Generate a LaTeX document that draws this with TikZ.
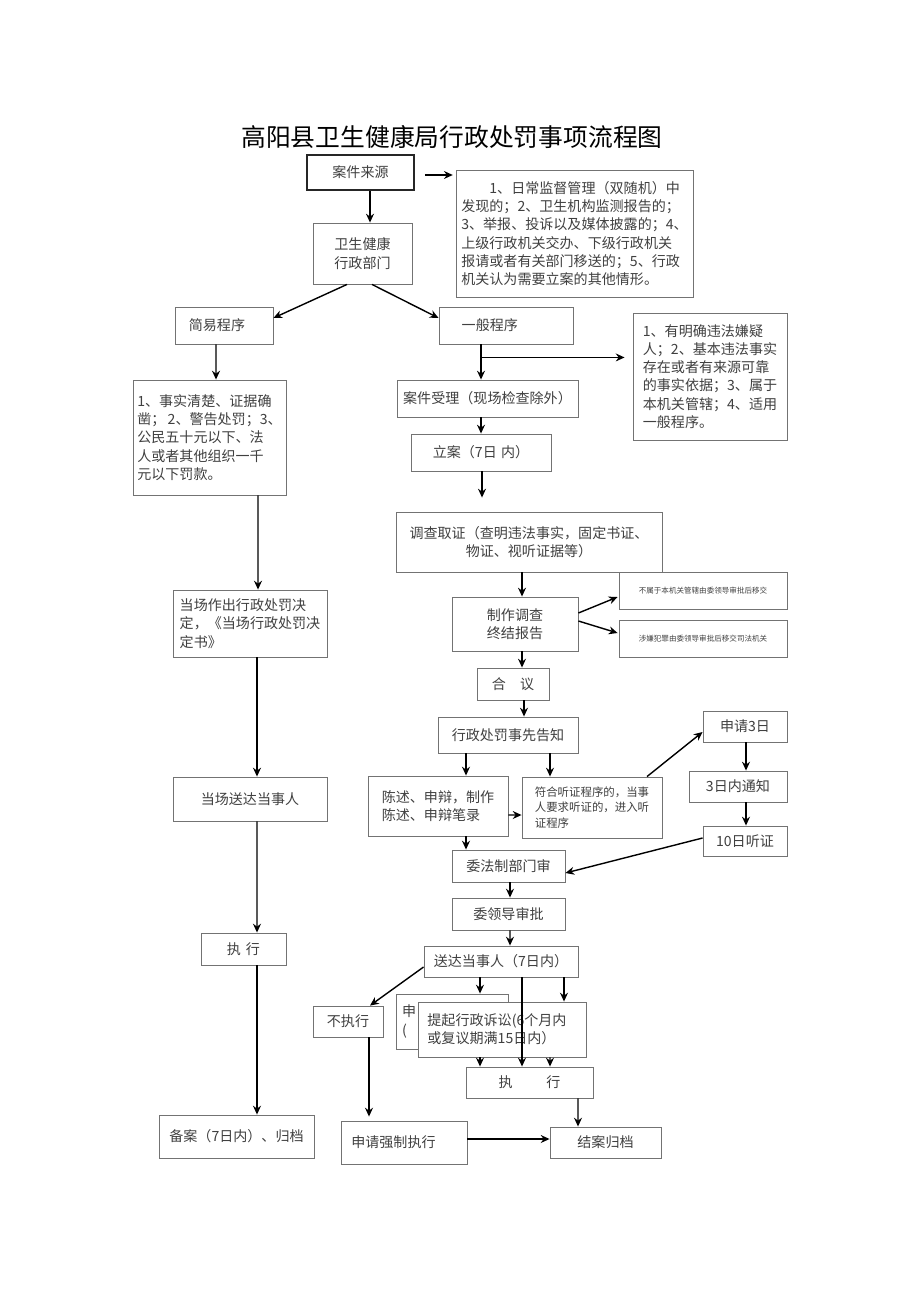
\documentclass[tikz,border=0pt]{standalone}
\usepackage{fontspec}
\setmainfont{Noto Sans CJK SC}
\usetikzlibrary{arrows.meta,calc,positioning}

\tikzset{
  box/.style={draw=black!55, line width=0.5pt, fill=white, text=black!75, inner sep=0pt,
              align=left, font=\fontsize{8}{10.4}\selectfont},
  sz/.style 2 args={minimum width=#1*0.02cm, minimum height=#2*0.02cm},
  arr/.style={-{Stealth[length=5pt,width=4.5pt]}, line width=0.8pt, black},
}

\begin{document}
\begin{tikzpicture}[x=0.02cm, y=-0.02cm]
    \useasboundingbox (0,0) rectangle (920,1301);

    % Title
    \node (title) at (452,137) {\fontsize{14.1}{17}\selectfont 高阳县卫生健康局行政处罚事项流程图};

    % Case source
    \node[box, sz={107}{35}, draw=black!85, line width=0.9pt] (src) at (360.5,172.5) {案件来源};
    \node[box, sz={237}{127}] (srclist) at (574.5,233.5)
        {\hspace*{2em}1、日常监督管理（双随机）中\\发现的；2、卫生机构监测报告的；\\3、举报、投诉以及媒体披露的；4、\\上级行政机关交办、下级行政机关\\报请或者有关部门移送的；5、行政\\机关认为需要立案的其他情形。};
    \node[box, sz={99}{61}, align=center] (wsjk) at (362.5,253.5) {卫生健康\\行政部门};

    % Two procedures
    \node[box, sz={98}{37}] (jianyi) at (224,325.5) {简易程序\hspace*{1em}};
    \node[box, sz={134}{37}] (yiban) at (506,325.5) {一般程序\hspace*{2.3em}};
    \node[box, sz={154}{127}] (yibanlist) at (710,376.5)
        {1、有明确违法嫌疑\\人；2、基本违法事实\\存在或者有来源可靠\\的事实依据；3、属于\\本机关管辖；4、适用\\一般程序。};

    % Simple procedure column
    \node[box, sz={153}{115}] (shishi) at (209.5,437.5)
        {1、事实清楚、证据确\\凿；\,2、警告处罚；3、\\公民五十元以下、法\\人或者其他组织一千\\元以下罚款。};
    \node[box, sz={154}{67}] (dangchang) at (250,623.5)
        {当场作出行政处罚决\\定，《当场行政处罚决\\定书》};
    \node[box, sz={154}{44}] (songdaL) at (250,799) {当场送达当事人};
    \node[box, sz={85}{32}] (zhixingL) at (243.5,949) {执\hspace{0.35em}行};
    \node[box, sz={155}{43}] (beian) at (236.5,1136.5) {备案（7日内）、归档};

    % General procedure column
    \node[box, sz={181}{37}] (shouli) at (487.5,398.5) {案件受理（现场检查除外）};
    \node[box, sz={140}{37}] (lian) at (481,452.5) {立案（7日\hspace{0.3em}内）};
    \node[box, sz={266}{60}, align=center] (diaocha) at (529,542)
        {调查取证（查明违法事实，固定书证、\\物证、视听证据等）};
    \node[box, sz={126}{54}, align=center] (zhongjie) at (515,624) {制作调查\\终结报告};
    \node[box, sz={168}{37}, font=\fontsize{4.3}{5}\selectfont] (yijiao1) at (703,590.5)
        {不属于本机关管辖由委领导审批后移交};
    \node[box, sz={168}{37}, font=\fontsize{4.3}{5}\selectfont] (yijiao2) at (703,638.5)
        {涉嫌犯罪由委领导审批后移交司法机关};
    \node[box, sz={72}{32}] (heyi) at (513,684) {合\hspace{1em}议};
    \node[box, sz={140}{36}] (gaozhi) at (508,735) {行政处罚事先告知};
    \node[box, sz={140}{60}] (chenshu) at (438,806) {陈述、申辩，制作\\陈述、申辩笔录};
    \node[box, sz={140}{61}, font=\fontsize{6.5}{9}\selectfont] (fuhe) at (592,807.5)
        {符合听证程序的，当事\\人要求听证的，进入听\\证程序};

    % Hearing
    \node[box, sz={84}{31}] (shenqing3) at (745,726.5) {申请3日};
    \node[box, sz={98}{31}] (tongzhi) at (738,786.5) {3日内通知};
    \node[box, sz={84}{30}] (tingzheng) at (745,841) {10日听证};

    % Review and delivery
    \node[box, sz={113}{32}] (fazhi) at (508.5,866) {委法制部门审};
    \node[box, sz={113}{32}] (lingdao) at (508.5,914) {委领导审批};
    \node[box, sz={154}{31}] (songda) at (501,961.5) {送达当事人（7日内）};
    \node[box, sz={70}{31}] (buzhixing) at (348,1021.5) {不执行};
    \node[box, sz={112}{55}, text width=100*0.02cm] (fuyi) at (452,1021.5) {申\\(};
    \node[box, sz={168}{55}] (susong) at (502,1029.5) {提起行政诉讼(6个月内\\或复议期满15日内）\hspace*{1.5em}};
    \node[box, sz={127}{31}] (zhixingR) at (529.5,1082.5) {执\hspace{2.4em}行};
    \node[box, sz={126}{43}] (qiangzhi) at (404,1142.5) {申请强制执行\hspace*{1.5em}};
    \node[box, sz={111}{31}] (jiean) at (605.5,1142.5) {结案归档};

    % Connectors, top part
    \draw[arr] ($(src.south)+(9.5,0)$) -- ($(wsjk.north)+(7.5,0)$);
    \draw[arr] ($(src.east)+(10,2.5)$) -- ++(28,0);
    \draw[arr] ($(wsjk.south)+(-15.5,0)$) -- ($(jianyi.east)+(0,-7.5)$);
    \draw[arr] ($(wsjk.south)+(9.5,0)$) -- ($(yiban.west)+(0,-7.5)$);
    \draw[arr] ($(jianyi.south)+(-8,0)$) -- ($(shishi.north)+(6.5,0)$);
    \draw[arr] ($(yiban.south)+(-25,0)$) -- ($(shouli.north)+(-6.5,0)$);
    \coordinate (yb) at ($(yiban.south)+(-25,13)$);
    \draw[arr, shorten >=0.16cm] (yb) -- (yb -| yibanlist.west);
    \draw[arr] ($(shouli.south)+(-6.5,0)$) -- (lian.north);
    \draw[arr] ($(lian.south)+(1,0)$) -- ($(diaocha.north)+(-47,-14)$);
    \draw[arr] ($(diaocha.south)+(-7,0)$) -- ($(zhongjie.north)+(7,0)$);
    \draw[arr] ($(zhongjie.east)+(0,-11)$) -- ($(yijiao1.west)+(-1,6.5)$);
    \draw[arr] ($(zhongjie.east)+(0,-3)$) -- ($(yijiao2.west)+(-1,-5.5)$);
    \draw[arr] ($(zhongjie.south)+(7,0)$) -- ($(heyi.north)+(9,0)$);
    \draw[arr] ($(heyi.south)+(11,0)$) -- ($(gaozhi.north)+(16,0)$);
    \draw[arr] ($(gaozhi.south)+(-42,0)$) -- ($(chenshu.north)+(28,0)$);
    \draw[arr] ($(gaozhi.south)+(42,0)$) -- ($(fuhe.north)+(-42,0)$);
    \draw[arr] ($(chenshu.east)+(0,9)$) -- ($(fuhe.west)+(0,7.5)$);
    \draw[arr] ($(fuhe.north)+(55,0)$) -- ($(shenqing3.west)+(0,5.5)$);
    \draw[arr] ($(shenqing3.south)+(1,0)$) -- ($(tongzhi.north)+(8,0)$);
    \draw[arr] ($(tongzhi.south)+(8,0)$) -- ($(tingzheng.north)+(1,0)$);
    \draw[arr] ($(tingzheng.west)+(0,-3)$) -- ($(fazhi.east)+(0,7)$);
    \draw[arr] ($(chenshu.south)+(28,0)$) -- ($(fazhi.north)+(-42.5,0)$);
    \draw[arr] ($(fazhi.south)+(1.5,0)$) -- ($(lingdao.north)+(1.5,0)$);
    \draw[arr] ($(lingdao.south)+(1.5,0)$) -- ($(songda.north)+(9,0)$);

    % Connectors, bottom part
    \draw[arr] ($(songda.west)+(0,5.5)$) -- ($(buzhixing.north)+(22,0)$);
    \draw[arr] ($(songda.south)+(-21,0)$) -- ($(fuyi.north)+(28,0)$);
    \draw[arr] ($(songda.south)+(63,0)$) -- ($(susong.north)+(62,0)$);
    \draw[arr] ($(songda.south)+(21,0)$) -- ($(zhixingR.north)+(-7.5,0)$);
    \draw[arr] ($(susong.south)+(-22,0)$) -- ($(zhixingR.north)+(-49.5,0)$);
    \draw[arr] ($(susong.south)+(48,0)$) -- ($(zhixingR.north)+(20.5,0)$);
    \draw[arr] ($(zhixingR.south)+(48.5,0)$) -- ($(jiean.north)+(-27.5,0)$);
    \draw[arr] ($(buzhixing.south)+(21,0)$) -- ($(qiangzhi.north)+(-35,-4)$);
    \draw[arr] ($(qiangzhi.east)+(0,-3.5)$) -- ($(jiean.west)+(0,-3.5)$);

    % Connectors, left column
    \draw[arr] ($(shishi.south)+(48.5,0)$) -- ($(dangchang.north)+(8,0)$);
    \draw[arr] ($(dangchang.south)+(7,0)$) -- ($(songdaL.north)+(7,0)$);
    \draw[arr] ($(songdaL.south)+(7,0)$) -- ($(zhixingL.north)+(13.5,0)$);
    \draw[arr] ($(zhixingL.south)+(13.5,0)$) -- ($(beian.north)+(20.5,0)$);
\end{tikzpicture}
\end{document}
